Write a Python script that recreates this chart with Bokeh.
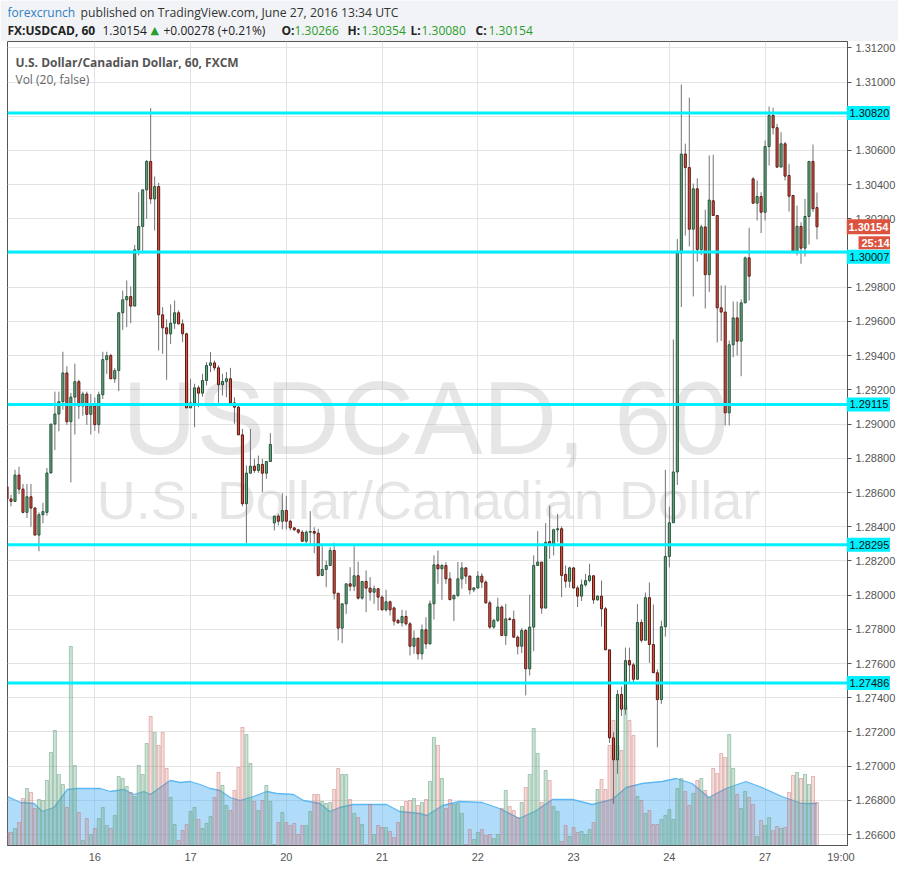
from bokeh.plotting import figure
from bokeh.layouts import column
from bokeh.models import Range1d, FixedTicker, PrintfTickFormatter, Label, Span
from bokeh.core.properties import value
from bokeh.embed import file_html
from bokeh.resources import INLINE

# ---------------- data (hourly candles, hour index 0 = June 16 00:00) ----------------
first_hour = -22
opens = [
    1.28634, 1.28562, 1.28548, 1.28702, 1.28620, 1.28484, 1.28575, 1.28509, 1.28351, 1.28470,
    1.28484, 1.28714, 1.29000, 1.29059, 1.29131, 1.29299, 1.29014, 1.29158, 1.29248, 1.29106,
    1.29176, 1.29057, 1.29106, 1.28997, 1.29172, 1.29377, 1.29401, 1.29265, 1.29313, 1.29651,
    1.29727, 1.29746, 1.29690, 1.30019, 1.30156, 1.30370, 1.30536, 1.30317, 1.30389, 1.29639,
    1.29563, 1.29528, 1.29590, 1.29651, 1.29586, 1.29528, 1.29095, 1.29124, 1.29212, 1.29181,
    1.29255, 1.29343, 1.29358, 1.29329, 1.29230, 1.29249, 1.29265, 1.29124, 1.29099, 1.28937,
    1.28534, 1.28713, 1.28754, 1.28729, 1.28764, 1.28713, 1.28781, 1.28422, 1.28462, 1.28432,
    1.28495, 1.28432, 1.28393, 1.28382, 1.28368, 1.28315, 1.28368, 1.28372, 1.28362, 1.28115,
    1.28150, 1.28173, 1.28261, 1.28011, 1.27807, 1.27949, 1.28066, 1.28052, 1.28113, 1.27982,
    1.28080, 1.28041, 1.28017, 1.28037, 1.27988, 1.27914, 1.27961, 1.27925, 1.27852, 1.27838,
    1.27875, 1.27832, 1.27701, 1.27748, 1.27657, 1.27797, 1.27715, 1.27949, 1.28177, 1.28154,
    1.28173, 1.28095, 1.27978, 1.27998, 1.28095, 1.28159, 1.28111, 1.28031, 1.28042, 1.28111,
    1.28076, 1.27955, 1.27813, 1.27852, 1.27930, 1.27764, 1.27861, 1.27857, 1.27754, 1.27701,
    1.27793, 1.27569, 1.27813, 1.28173, 1.28193, 1.27924, 1.28313, 1.28300, 1.28382, 1.28388,
    1.28121, 1.28081, 1.28159, 1.28042, 1.27994, 1.28060, 1.28085, 1.28113, 1.27972, 1.27994,
    1.27920, 1.27680, 1.27165, 1.27037, 1.27419, 1.27333, 1.27617, 1.27592, 1.27508, 1.27840,
    1.27736, 1.27985, 1.27711, 1.27546, 1.27389, 1.27815, 1.28226, 1.28423, 1.28720, 1.30001,
    1.30579, 1.30500, 1.30140, 1.30376, 1.30021, 1.30153, 1.29874, 1.30306, 1.30220, 1.29680,
    1.29655, 1.29066, 1.29464, 1.29621, 1.29485, 1.29709, 1.29972, 1.30434, 1.30292, 1.30331,
    1.30239, 1.30623, 1.30805, 1.30733, 1.30503, 1.30639, 1.30454, 1.30337, 1.30011, 1.30156,
    1.30029, 1.30214, 1.30536, 1.30266,
]
highs = [
    1.28650, 1.28587, 1.28733, 1.28751, 1.28650, 1.28650, 1.28650, 1.28515, 1.28484, 1.28540,
    1.28743, 1.29000, 1.29190, 1.29190, 1.29423, 1.29338, 1.29182, 1.29353, 1.29260, 1.29190,
    1.29190, 1.29176, 1.29156, 1.29190, 1.29423, 1.29423, 1.29411, 1.29327, 1.29651, 1.29781,
    1.29840, 1.29805, 1.30048, 1.30356, 1.30370, 1.30545, 1.30848, 1.30448, 1.30411, 1.29684,
    1.29612, 1.29700, 1.29723, 1.29665, 1.29612, 1.29534, 1.29265, 1.29236, 1.29226, 1.29294,
    1.29362, 1.29421, 1.29372, 1.29343, 1.29294, 1.29304, 1.29329, 1.29157, 1.29118, 1.28972,
    1.28758, 1.28972, 1.28797, 1.28816, 1.28797, 1.28781, 1.28947, 1.28462, 1.28475, 1.28596,
    1.28580, 1.28441, 1.28397, 1.28387, 1.28380, 1.28378, 1.28491, 1.28397, 1.28388, 1.28286,
    1.28202, 1.28280, 1.28306, 1.28011, 1.27949, 1.28066, 1.28163, 1.28286, 1.28196, 1.28080,
    1.28144, 1.28105, 1.28056, 1.28041, 1.27999, 1.28031, 1.27968, 1.27933, 1.27862, 1.27914,
    1.27910, 1.27842, 1.27793, 1.27748, 1.27828, 1.27871, 1.27969, 1.28232, 1.28261, 1.28183,
    1.28193, 1.28134, 1.28004, 1.28193, 1.28193, 1.28163, 1.28115, 1.28046, 1.28140, 1.28128,
    1.28086, 1.27968, 1.27862, 1.27984, 1.27940, 1.27949, 1.27871, 1.27910, 1.27764, 1.27807,
    1.27803, 1.28002, 1.28232, 1.28374, 1.28193, 1.28421, 1.28524, 1.28388, 1.28475, 1.28401,
    1.28173, 1.28167, 1.28163, 1.28056, 1.28091, 1.28124, 1.28183, 1.28115, 1.27998, 1.28085,
    1.27930, 1.27680, 1.27198, 1.27445, 1.27465, 1.27693, 1.27693, 1.27604, 1.27947, 1.27858,
    1.28015, 1.28074, 1.27945, 1.27566, 1.27850, 1.28733, 1.28517, 1.29494, 1.30082, 1.30985,
    1.30640, 1.30909, 1.30407, 1.30437, 1.30166, 1.30254, 1.30571, 1.30575, 1.30220, 1.29811,
    1.29811, 1.29489, 1.29717, 1.29717, 1.29729, 1.29980, 1.30148, 1.30444, 1.30425, 1.30356,
    1.30658, 1.30857, 1.30850, 1.30756, 1.30707, 1.30649, 1.30522, 1.30337, 1.30278, 1.30181,
    1.30317, 1.30536, 1.30635, 1.30354,
]
lows = [
    1.28555, 1.28519, 1.28548, 1.28591, 1.28478, 1.28451, 1.28400, 1.28351, 1.28256, 1.28420,
    1.28464, 1.28714, 1.28848, 1.28958, 1.29084, 1.28995, 1.28659, 1.28939, 1.29030, 1.29049,
    1.28995, 1.28939, 1.28961, 1.28946, 1.29147, 1.29293, 1.29265, 1.29241, 1.29193, 1.29551,
    1.29567, 1.29590, 1.29690, 1.29986, 1.30009, 1.30200, 1.30288, 1.30132, 1.29430, 1.29411,
    1.29259, 1.29469, 1.29557, 1.29586, 1.29479, 1.29095, 1.29095, 1.28982, 1.29099, 1.29161,
    1.29226, 1.29304, 1.29313, 1.29124, 1.29167, 1.29157, 1.29124, 1.29002, 1.28937, 1.28518,
    1.28304, 1.28713, 1.28715, 1.28715, 1.28602, 1.28680, 1.28781, 1.28378, 1.28407, 1.28384,
    1.28384, 1.28378, 1.28375, 1.28358, 1.28310, 1.28304, 1.28290, 1.28245, 1.28109, 1.28115,
    1.28046, 1.28173, 1.27974, 1.27735, 1.27719, 1.27890, 1.28023, 1.28023, 1.27974, 1.27974,
    1.27900, 1.27968, 1.27949, 1.27910, 1.27910, 1.27904, 1.27881, 1.27822, 1.27832, 1.27816,
    1.27822, 1.27647, 1.27657, 1.27623, 1.27623, 1.27686, 1.27709, 1.27857, 1.28066, 1.27972,
    1.28066, 1.27968, 1.27848, 1.27988, 1.28037, 1.28066, 1.28004, 1.28017, 1.28037, 1.28042,
    1.27949, 1.27803, 1.27803, 1.27842, 1.27764, 1.27709, 1.27852, 1.27750, 1.27653, 1.27661,
    1.27413, 1.27530, 1.27672, 1.28173, 1.27891, 1.27924, 1.28212, 1.28232, 1.28310, 1.27988,
    1.28043, 1.28043, 1.28037, 1.27930, 1.27965, 1.28050, 1.28075, 1.27949, 1.27968, 1.27816,
    1.27680, 1.27135, 1.26780, 1.26955, 1.27293, 1.27301, 1.27484, 1.27484, 1.27508, 1.27723,
    1.27736, 1.27604, 1.27546, 1.27110, 1.27364, 1.27757, 1.28162, 1.28423, 1.28644, 1.29684,
    1.30102, 1.30039, 1.29747, 1.29950, 1.29988, 1.29676, 1.29773, 1.30220, 1.29477, 1.29486,
    1.28992, 1.28992, 1.29391, 1.29401, 1.29280, 1.29709, 1.29723, 1.30288, 1.30191, 1.30117,
    1.30191, 1.30512, 1.30694, 1.30497, 1.30503, 1.30425, 1.30243, 1.30005, 1.29986, 1.29937,
    1.29980, 1.30050, 1.30240, 1.30080,
]
closes = [
    1.28562, 1.28548, 1.28702, 1.28620, 1.28484, 1.28575, 1.28509, 1.28351, 1.28470, 1.28488,
    1.28714, 1.29000, 1.29059, 1.29131, 1.29299, 1.29014, 1.29158, 1.29248, 1.29106, 1.29176,
    1.29057, 1.29106, 1.28997, 1.29172, 1.29377, 1.29400, 1.29265, 1.29313, 1.29651, 1.29727,
    1.29746, 1.29690, 1.30019, 1.30156, 1.30370, 1.30536, 1.30317, 1.30389, 1.29639, 1.29563,
    1.29528, 1.29590, 1.29651, 1.29586, 1.29528, 1.29095, 1.29124, 1.29212, 1.29181, 1.29255,
    1.29343, 1.29358, 1.29329, 1.29230, 1.29249, 1.29265, 1.29124, 1.29099, 1.28937, 1.28534,
    1.28713, 1.28754, 1.28729, 1.28764, 1.28713, 1.28781, 1.28881, 1.28462, 1.28432, 1.28495,
    1.28432, 1.28393, 1.28382, 1.28368, 1.28315, 1.28368, 1.28372, 1.28362, 1.28115, 1.28150,
    1.28173, 1.28261, 1.28011, 1.27807, 1.27949, 1.28066, 1.28052, 1.28113, 1.27982, 1.28080,
    1.28041, 1.28017, 1.28037, 1.27988, 1.27914, 1.27961, 1.27914, 1.27848, 1.27838, 1.27875,
    1.27832, 1.27701, 1.27748, 1.27657, 1.27797, 1.27715, 1.27949, 1.28177, 1.28154, 1.28173,
    1.28095, 1.27974, 1.27998, 1.28095, 1.28159, 1.28111, 1.28031, 1.28042, 1.28111, 1.28076,
    1.27955, 1.27813, 1.27852, 1.27930, 1.27764, 1.27861, 1.27857, 1.27754, 1.27701, 1.27793,
    1.27569, 1.27813, 1.28173, 1.28193, 1.27924, 1.28309, 1.28300, 1.28382, 1.28388, 1.28115,
    1.28081, 1.28159, 1.28042, 1.27994, 1.28060, 1.28085, 1.28113, 1.27972, 1.27994, 1.27920,
    1.27680, 1.27165, 1.27037, 1.27419, 1.27333, 1.27617, 1.27592, 1.27508, 1.27840, 1.27736,
    1.27985, 1.27711, 1.27546, 1.27389, 1.27815, 1.28226, 1.28423, 1.28720, 1.30001, 1.30579,
    1.30500, 1.30140, 1.30376, 1.30021, 1.30153, 1.29874, 1.30310, 1.30220, 1.29680, 1.29655,
    1.29066, 1.29464, 1.29621, 1.29485, 1.29709, 1.29972, 1.29865, 1.30292, 1.30331, 1.30239,
    1.30623, 1.30805, 1.30733, 1.30503, 1.30639, 1.30450, 1.30333, 1.30011, 1.30156, 1.30029,
    1.30214, 1.30536, 1.30259, 1.30154,
]
volumes = [
    13, 13, 17, 23, 47, 57, 53, 37, 46, 45,
    65, 93, 115, 71, 61, 38, 199, 80, 33, 5,
    27, 11, 17, 27, 38, 20, 17, 30, 69, 67,
    59, 53, 49, 80, 71, 102, 129, 113, 100, 113,
    77, 48, 21, 5, 15, 21, 34, 38, 26, 17,
    22, 29, 48, 73, 60, 40, 35, 55, 78, 118,
    111, 82, 44, 35, 45, 60, 44, 1, 23, 33,
    23, 20, 22, 11, 20, 20, 34, 51, 51, 44,
    42, 43, 56, 77, 71, 71, 46, 32, 28, 21,
    1, 41, 11, 20, 18, 18, 14, 8, 23, 39,
    44, 45, 47, 40, 43, 46, 64, 108, 100, 67,
    37, 46, 41, 42, 32, 1, 16, 6, 13, 16,
    10, 11, 7, 11, 37, 55, 39, 35, 28, 43,
    58, 71, 117, 92, 43, 75, 65, 39, 34, 4,
    20, 9, 18, 13, 14, 11, 16, 23, 56, 66,
    56, 100, 125, 100, 95, 140, 125, 110, 49, 45,
    32, 35, 21, 21, 26, 30, 36, 26, 57, 67,
    54, 40, 52, 65, 67, 55, 48, 77, 72, 92,
    88, 111, 77, 51, 37, 54, 48, 41, 9, 25,
    20, 28, 15, 19, 17, 18, 53, 70, 73, 67,
    71, 61, 69, 43,
]
# volume moving average (20)
ma_hours = [-21.9, -18.6, -15.2, -13.2, -10.2, -6.9, -4.4, 1.4, 3.9, 7.3, 9.8, 12.3, 13.9, 16.4,
            18.9, 21.4, 23.9, 26.4, 28.9, 31.4, 33.9, 36.4, 39.8, 43.1, 45.6, 49.8, 52.3, 56.4,
            58.9, 61.4, 64.8, 68.1, 73.1, 76.4, 81.4, 83.2, 87.2, 91.4, 97.1, 101.4, 106.4,
            110.7, 114.7, 119.7, 124.7, 129.7, 133.2, 137.2, 142.2, 145.7, 149.7, 153.9,
            158.2, 163.2, 167.2, 172.2, 177.2, 181.0]
ma_values = [49, 43, 42, 34, 38, 56, 57, 57, 54, 56, 51, 54, 51, 58, 65, 63, 64, 61, 57, 55,
             48, 45, 49, 54, 52, 51, 45, 42, 34, 38, 41, 41, 41, 34, 32, 30, 40, 44, 43, 37,
             27, 35, 46, 46, 41, 46, 58, 62, 64, 67, 62, 48, 57, 64, 58, 49, 42, 42]

levels = [1.30820, 1.30007, 1.29115, 1.28295, 1.27486]
price_ticks = [1.266, 1.268, 1.270, 1.272, 1.274, 1.276, 1.278, 1.280, 1.282, 1.284, 1.286,
               1.288, 1.290, 1.292, 1.294, 1.296, 1.298, 1.300, 1.302, 1.304, 1.306, 1.308,
               1.310, 1.312]
hidden_price_ticks = [1.300, 1.308]   # covered by the level boxes in the original
day_ticks = [0, 24, 48, 72, 96, 120, 144, 168]
day_labels = ["16", "17", "20", "21", "22", "23", "24", "27"]
end_tick = 187
end_label = "19:00"
countdown = "25:14"

n = min(len(opens), len(highs), len(lows), len(closes), len(volumes))
hours = list(range(first_hour, first_hour + n))
last = closes[n - 1]

Y0, Y1 = 1.265357, 1.312374
FW, FH = 840, 804
unit = (Y1 - Y0) / FH          # price per pixel

# ---------------- header ----------------
HW, HH = 898, 41
head = figure(frame_width=HW, frame_height=HH, x_range=Range1d(0, HW), y_range=Range1d(0, HH),
              x_axis_location=None, y_axis_location=None, output_backend="svg",
              toolbar_location=None, min_border=0, background_fill_color="#f1f3f6",
              border_fill_color="#f1f3f6", outline_line_color=None)
head.grid.visible = False
HDX = -8   # measured horizontal correction of the header labels


def hlab(text, px, py, color="#333333", size="12px", bold=False, font="Open Sans"):
    head.add_layout(Label(x=px + HDX, y=HH - py, x_units="screen", y_units="screen", text=text,
                          text_color=color, text_font_size=size, text_font=font,
                          text_font_style="bold" if bold else "normal",
                          text_align="left", text_baseline="middle"))


GREEN = "#2a9d2a"
hlab("forexcrunch", 8, 12, color="#2e80c2", size="12px")
hlab("published on TradingView.com, June 27, 2016 13:34 UTC", 81, 12, color="#333333",
     size="12.2px")
hlab("FX:USDCAD, 60", 8, 30, color="#222222", bold=True)
hlab(f"{last:.5f}", 103, 30, color="#222222")
hlab("\u25b2", 151, 30, color=GREEN, size="11px", font="DejaVu Sans")
hlab("+0.00278 (+0.21%)", 164, 30, color="#222222")
hlab("O:", 282, 30, color="#222222", bold=True)
hlab(f"{opens[n - 1]:.5f}", 295, 30, color=GREEN)
hlab("H:", 348, 30, color="#222222", bold=True)
hlab(f"{highs[n - 1]:.5f}", 362, 30, color=GREEN)
hlab("L:", 411, 30, color="#222222", bold=True)
hlab(f"{lows[n - 1]:.5f}", 422, 30, color=GREEN)
hlab("C:", 476, 30, color="#222222", bold=True)
hlab(f"{last:.5f}", 489, 30, color=GREEN)

# ---------------- main chart ----------------
p = figure(frame_width=FW, frame_height=FH,
           x_range=Range1d(-21.88, 188.65), y_range=Range1d(Y0, Y1),
           y_axis_location="right", output_backend="svg", toolbar_location=None,
           min_border_left=7, min_border_right=51, min_border_top=0, min_border_bottom=21,
           background_fill_color="white", border_fill_color="white",
           outline_line_color="#555555")
p.extra_y_ranges = {"vol": Range1d(0, FH)}


def plab(text, px, py, color="#555555", size="12px", bold=False, font="Open Sans"):
    # px, py: page pixels; frame spans x 7..847, y 41..845
    p.add_layout(Label(x=px - 7, y=845 - py, x_units="screen", y_units="screen", text=text,
                       text_color=color, text_font_size=size, text_font=font,
                       text_font_style="bold" if bold else "normal",
                       text_align="left", text_baseline="middle"))


# watermark
p.add_layout(Label(x=418, y=427, x_units="screen", y_units="screen", text="USDCAD, 60",
                   text_font="Liberation Sans", text_font_size="103px", text_color="#9a9a9a",
                   text_alpha=0.25, text_align="center", text_baseline="middle",
                   level="underlay"))
p.add_layout(Label(x=421, y=346, x_units="screen", y_units="screen",
                   text="U.S. Dollar/Canadian Dollar",
                   text_font="Liberation Sans", text_font_size="54px", text_color="#9a9a9a",
                   text_alpha=0.25, text_align="center", text_baseline="middle",
                   level="underlay"))

# volume
p.varea(x=ma_hours, y1=[0] * len(ma_hours), y2=ma_values, y_range_name="vol",
        fill_color="#4fb2f5", fill_alpha=0.45)
p.line(ma_hours, ma_values, y_range_name="vol", line_color="#5db9f3", line_width=1.3)

up = [i for i in range(n) if closes[i] >= opens[i]]
dn = [i for i in range(n) if closes[i] < opens[i]]

p.vbar(x=[hours[i] for i in up], top=[volumes[i] for i in up], bottom=0, width=0.75,
       y_range_name="vol", fill_color="#6ba583", fill_alpha=0.32,
       line_color="#6ba583", line_alpha=0.55, line_width=1)
p.vbar(x=[hours[i] for i in dn], top=[volumes[i] for i in dn], bottom=0, width=0.75,
       y_range_name="vol", fill_color="#d75442", fill_alpha=0.2,
       line_color="#c07070", line_alpha=0.45, line_width=1)

# candles
p.segment(x0=hours, y0=lows[:n], x1=hours, y1=highs[:n], line_color="#737375", line_width=1)
p.vbar(x=[hours[i] for i in up], top=[closes[i] for i in up], bottom=[opens[i] for i in up],
       width=0.52, fill_color="#6ba583", line_color="#225437", line_width=1)
p.vbar(x=[hours[i] for i in dn], top=[opens[i] for i in dn], bottom=[closes[i] for i in dn],
       width=0.52, fill_color="#d75442", line_color="#5b1a13", line_width=1)

# horizontal levels
CYAN = "#00f0ff"
for v in levels:
    p.add_layout(Span(location=v, dimension="width", line_color=CYAN, line_width=3))

# legend texts
plab("U.S. Dollar/Canadian Dollar, 60, FXCM", 15, 62, color="#555555", bold=True)
plab("Vol (20, false)", 15, 79, color="#666666")

# axes / grid
ya = p.yaxis[0]
ya.ticker = FixedTicker(ticks=price_ticks)
ya.formatter = PrintfTickFormatter(format="%.5f")
ya.major_label_overrides = {v: "" for v in hidden_price_ticks}
ya.major_label_text_font = "Liberation Sans"
ya.major_label_text_font_size = "11px"
ya.major_label_text_color = "#555555"
ya.major_tick_out = 4
ya.major_tick_in = 0
ya.minor_tick_line_color = None
ya.major_tick_line_color = "#555555"
ya.axis_line_color = "#555555"
ya.major_label_standoff = 4

p.xaxis.ticker = FixedTicker(ticks=day_ticks + [end_tick])
p.xaxis.major_label_overrides = dict(zip(day_ticks + [end_tick], day_labels + [end_label]))
p.xaxis.major_label_text_font = "Liberation Sans"
p.xaxis.major_label_text_font_size = "11px"
p.xaxis.major_label_text_color = "#555555"
p.xaxis.major_tick_out = 0
p.xaxis.major_tick_in = 0
p.xaxis.minor_tick_line_color = None
p.xaxis.axis_line_color = "#555555"
p.xaxis.major_label_standoff = 5

p.xgrid.ticker = FixedTicker(ticks=day_ticks)
p.xgrid.grid_line_color = "#e3e3e3"
p.ygrid.ticker = FixedTicker(ticks=price_ticks)
p.ygrid.grid_line_color = "#e3e3e3"

# ---------------- boxed labels over the price-axis panel ----------------
SW = 51
tags = figure(frame_width=SW, frame_height=FH, x_range=Range1d(0, SW), y_range=p.y_range,
              x_axis_location=None, y_axis_location=None, output_backend="svg",
              toolbar_location=None, min_border=0, background_fill_alpha=0,
              border_fill_alpha=0, outline_line_color=None,
              styles={"position": "absolute", "left": "839px", "top": "41px"})
tags.grid.visible = False

cd_y = last - 16 * unit                       # countdown box sits just below the price box
box_y = []
for v in levels:                              # push a level box below the countdown box if they collide
    box_y.append(cd_y - 14 * unit if abs(v - cd_y) < 14 * unit else v)

tags.rect(x=SW / 2, y=box_y, width=SW, height=14, height_units="screen",
          fill_color=CYAN, line_color=None)
tags.text(x=3, y=box_y, text=[f"{v:.5f}" for v in levels], text_color="#111111",
          text_font=value("Liberation Sans"), text_font_size="11px", text_baseline="middle")
tags.rect(x=SW / 2, y=[last], width=SW, height=15, height_units="screen",
          fill_color="#dc5440", line_color=None)
tags.text(x=2, y=[last], text=[f"{last:.5f}"], text_color="white", text_font_style="bold",
          text_font=value("Liberation Sans"), text_font_size="11px", text_baseline="middle")
tags.rect(x=(12 + SW) / 2, y=[cd_y], width=SW - 12, height=13, height_units="screen",
          fill_color="#dc5440", line_color=None)
tags.text(x=15, y=[cd_y], text=[countdown], text_color="white", text_font_style="bold",
          text_font=value("Liberation Sans"), text_font_size="11px", text_baseline="middle")

layout = column(head, p, tags, spacing=0)
open("out.html", "w").write(file_html(layout, INLINE))
